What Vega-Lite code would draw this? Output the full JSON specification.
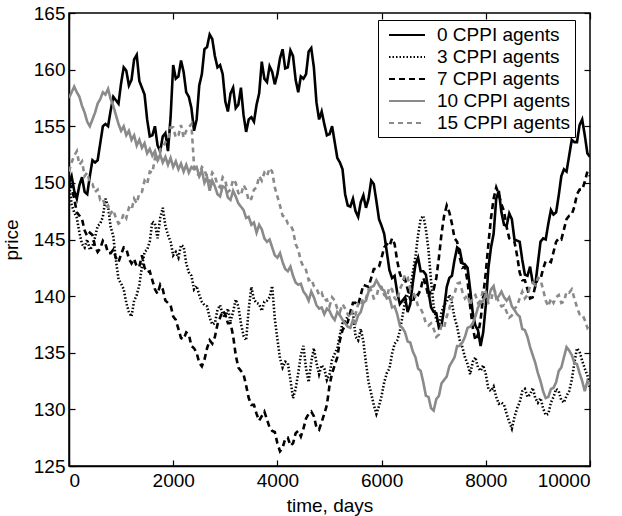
{
  "$schema": "https://vega.github.io/schema/vega-lite/v6.json",
  "autosize": {"type": "none"},
  "padding": {"left": 69, "top": 13, "right": 32, "bottom": 50},
  "width": 521,
  "height": 453,
  "background": "white",
  "config": {
    "view": {"stroke": "black", "strokeWidth": 1.5},
    "font": "Liberation Sans",
    "axis": {"labelFont": "Liberation Sans", "titleFont": "Liberation Sans", "labelFontSize": 19, "titleFontSize": 19, "titleFontWeight": "normal", "labelColor": "black", "titleColor": "black", "domainColor": "black", "tickColor": "black", "grid": false, "tickSize": -6, "domainWidth": 1.5, "tickWidth": 1.2, "format": "d"}
  },
  "datasets": {
    "d": [
{"s":"0","t":0,"p":150},{"s":"0","t":100,"p":149.3},{"s":"0","t":200,"p":149.8},{"s":"0","t":300,"p":149.2},{"s":"0","t":400,"p":150.6},{"s":"0","t":500,"p":151.8},{"s":"0","t":600,"p":153.5},{"s":"0","t":700,"p":155.2},{"s":"0","t":800,"p":156.4},{"s":"0","t":900,"p":157.3},{"s":"0","t":1000,"p":158.8},{"s":"0","t":1100,"p":159.9},{"s":"0","t":1200,"p":159.1},{"s":"0","t":1300,"p":161.3},{"s":"0","t":1400,"p":158.4},{"s":"0","t":1500,"p":155.6},{"s":"0","t":1600,"p":154.2},{"s":"0","t":1700,"p":153.3},{"s":"0","t":1800,"p":154.1},{"s":"0","t":1900,"p":152.8},{"s":"0","t":2000,"p":160.4},{"s":"0","t":2100,"p":159.4},{"s":"0","t":2200,"p":159.8},{"s":"0","t":2300,"p":157.6},{"s":"0","t":2400,"p":154.6},{"s":"0","t":2500,"p":158.6},{"s":"0","t":2600,"p":161.8},{"s":"0","t":2700,"p":163.1},{"s":"0","t":2800,"p":161.2},{"s":"0","t":2900,"p":160.4},{"s":"0","t":3000,"p":157.2},{"s":"0","t":3100,"p":157.9},{"s":"0","t":3200,"p":156.6},{"s":"0","t":3300,"p":158.4},{"s":"0","t":3400,"p":154.5},{"s":"0","t":3500,"p":155.8},{"s":"0","t":3600,"p":156.9},{"s":"0","t":3700,"p":160.7},{"s":"0","t":3800,"p":158.9},{"s":"0","t":3900,"p":159.8},{"s":"0","t":4000,"p":159.6},{"s":"0","t":4100,"p":161.8},{"s":"0","t":4200,"p":160.2},{"s":"0","t":4300,"p":161.2},{"s":"0","t":4400,"p":158.0},{"s":"0","t":4500,"p":159.2},{"s":"0","t":4600,"p":161.6},{"s":"0","t":4700,"p":160.2},{"s":"0","t":4800,"p":155.6},{"s":"0","t":4900,"p":155.2},{"s":"0","t":5000,"p":154.3},{"s":"0","t":5100,"p":153.6},{"s":"0","t":5200,"p":151.8},{"s":"0","t":5300,"p":149.0},{"s":"0","t":5400,"p":147.9},{"s":"0","t":5500,"p":147.5},{"s":"0","t":5600,"p":148.3},{"s":"0","t":5700,"p":147.8},{"s":"0","t":5800,"p":150.2},{"s":"0","t":5900,"p":148.4},{"s":"0","t":6000,"p":146.2},{"s":"0","t":6100,"p":143.9},{"s":"0","t":6200,"p":141.6},{"s":"0","t":6300,"p":140.3},{"s":"0","t":6400,"p":139.6},{"s":"0","t":6500,"p":138.6},{"s":"0","t":6600,"p":141.2},{"s":"0","t":6700,"p":143.4},{"s":"0","t":6800,"p":142.2},{"s":"0","t":6900,"p":140.4},{"s":"0","t":7000,"p":138.6},{"s":"0","t":7100,"p":137.2},{"s":"0","t":7200,"p":138.9},{"s":"0","t":7300,"p":141.6},{"s":"0","t":7400,"p":143.2},{"s":"0","t":7500,"p":144.1},{"s":"0","t":7600,"p":142.8},{"s":"0","t":7700,"p":140.6},{"s":"0","t":7800,"p":137.4},{"s":"0","t":7900,"p":135.6},{"s":"0","t":8000,"p":139.2},{"s":"0","t":8100,"p":144.3},{"s":"0","t":8200,"p":148.6},{"s":"0","t":8300,"p":147.4},{"s":"0","t":8400,"p":146.2},{"s":"0","t":8500,"p":146.8},{"s":"0","t":8600,"p":144.9},{"s":"0","t":8700,"p":143.2},{"s":"0","t":8800,"p":141.8},{"s":"0","t":8900,"p":141.2},{"s":"0","t":9000,"p":142.9},{"s":"0","t":9100,"p":145.1},{"s":"0","t":9200,"p":146.4},{"s":"0","t":9300,"p":147.2},{"s":"0","t":9400,"p":148.9},{"s":"0","t":9500,"p":151.2},{"s":"0","t":9600,"p":152.4},{"s":"0","t":9700,"p":153.6},{"s":"0","t":9800,"p":155.1},{"s":"0","t":9900,"p":154.2},{"s":"0","t":10000,"p":152.3},
{"s":"0","t":50,"p":150.6},{"s":"0","t":150,"p":148.6},{"s":"0","t":250,"p":150.5},{"s":"0","t":350,"p":149.0},{"s":"0","t":450,"p":152.0},{"s":"0","t":550,"p":152.0},{"s":"0","t":650,"p":155.0},{"s":"0","t":750,"p":155.0},{"s":"0","t":850,"p":157.6},{"s":"0","t":950,"p":157.0},{"s":"0","t":1050,"p":160.2},{"s":"0","t":1150,"p":158.6},{"s":"0","t":1250,"p":160.9},{"s":"0","t":1350,"p":159.0},{"s":"0","t":1450,"p":157.8},{"s":"0","t":1550,"p":154.1},{"s":"0","t":1650,"p":155.0},{"s":"0","t":1750,"p":152.8},{"s":"0","t":1850,"p":154.4},{"s":"0","t":1950,"p":155.8},{"s":"0","t":2050,"p":159.2},{"s":"0","t":2150,"p":160.8},{"s":"0","t":2250,"p":158.0},{"s":"0","t":2350,"p":156.6},{"s":"0","t":2450,"p":155.6},{"s":"0","t":2550,"p":159.6},{"s":"0","t":2650,"p":162.0},{"s":"0","t":2750,"p":162.7},{"s":"0","t":2850,"p":160.2},{"s":"0","t":2950,"p":159.6},{"s":"0","t":3050,"p":156.3},{"s":"0","t":3150,"p":158.4},{"s":"0","t":3250,"p":156.9},{"s":"0","t":3350,"p":156.0},{"s":"0","t":3450,"p":155.6},{"s":"0","t":3550,"p":155.4},{"s":"0","t":3650,"p":157.9},{"s":"0","t":3750,"p":159.2},{"s":"0","t":3850,"p":160.3},{"s":"0","t":3950,"p":158.7},{"s":"0","t":4050,"p":161.0},{"s":"0","t":4150,"p":160.1},{"s":"0","t":4250,"p":161.7},{"s":"0","t":4350,"p":159.1},{"s":"0","t":4450,"p":159.4},{"s":"0","t":4550,"p":159.6},{"s":"0","t":4650,"p":161.9},{"s":"0","t":4750,"p":157.1},{"s":"0","t":4850,"p":156.3},{"s":"0","t":4950,"p":154.2},{"s":"0","t":5050,"p":155.0},{"s":"0","t":5150,"p":152.2},{"s":"0","t":5250,"p":151.2},{"s":"0","t":5350,"p":148.0},{"s":"0","t":5450,"p":148.6},{"s":"0","t":5550,"p":147.0},{"s":"0","t":5650,"p":148.9},{"s":"0","t":5750,"p":148.6},{"s":"0","t":5850,"p":149.9},{"s":"0","t":5950,"p":146.8},{"s":"0","t":6050,"p":145.5},{"s":"0","t":6150,"p":142.3},{"s":"0","t":6250,"p":141.8},{"s":"0","t":6350,"p":139.3},{"s":"0","t":6450,"p":139.9},{"s":"0","t":6550,"p":139.3},{"s":"0","t":6650,"p":142.8},{"s":"0","t":6750,"p":142.2},{"s":"0","t":6850,"p":141.9},{"s":"0","t":6950,"p":139.0},{"s":"0","t":7050,"p":138.5},{"s":"0","t":7150,"p":137.4},{"s":"0","t":7250,"p":140.8},{"s":"0","t":7350,"p":141.8},{"s":"0","t":7450,"p":144.3},{"s":"0","t":7550,"p":142.9},{"s":"0","t":7650,"p":142.5},{"s":"0","t":7750,"p":138.5},{"s":"0","t":7850,"p":137.0},{"s":"0","t":7950,"p":136.8},{"s":"0","t":8050,"p":142.5},{"s":"0","t":8150,"p":145.5},{"s":"0","t":8250,"p":149.3},{"s":"0","t":8350,"p":146.3},{"s":"0","t":8450,"p":147.3},{"s":"0","t":8550,"p":145.0},{"s":"0","t":8650,"p":144.8},{"s":"0","t":8750,"p":141.9},{"s":"0","t":8850,"p":142.6},{"s":"0","t":8950,"p":141.0},{"s":"0","t":9050,"p":144.8},{"s":"0","t":9150,"p":145.0},{"s":"0","t":9250,"p":147.6},{"s":"0","t":9350,"p":147.4},{"s":"0","t":9450,"p":150.6},{"s":"0","t":9550,"p":151.0},{"s":"0","t":9650,"p":153.8},{"s":"0","t":9750,"p":153.6},{"s":"0","t":9850,"p":155.6},{"s":"0","t":9950,"p":152.6},
{"s":"3","t":0,"p":150},{"s":"3","t":100,"p":147.4},{"s":"3","t":200,"p":145.6},{"s":"3","t":300,"p":144.3},{"s":"3","t":400,"p":144.1},{"s":"3","t":500,"p":145.2},{"s":"3","t":600,"p":146.4},{"s":"3","t":700,"p":148.6},{"s":"3","t":800,"p":146.1},{"s":"3","t":900,"p":143.2},{"s":"3","t":1000,"p":141.1},{"s":"3","t":1100,"p":139.4},{"s":"3","t":1200,"p":138.2},{"s":"3","t":1300,"p":140.1},{"s":"3","t":1400,"p":142.6},{"s":"3","t":1500,"p":144.1},{"s":"3","t":1600,"p":146.6},{"s":"3","t":1700,"p":145.1},{"s":"3","t":1800,"p":147.8},{"s":"3","t":1900,"p":145.4},{"s":"3","t":2000,"p":143.6},{"s":"3","t":2100,"p":143.4},{"s":"3","t":2200,"p":144.4},{"s":"3","t":2300,"p":142.1},{"s":"3","t":2400,"p":140.6},{"s":"3","t":2500,"p":140.1},{"s":"3","t":2600,"p":139.2},{"s":"3","t":2700,"p":138.1},{"s":"3","t":2800,"p":137.6},{"s":"3","t":2900,"p":139.2},{"s":"3","t":3000,"p":138.1},{"s":"3","t":3100,"p":137.8},{"s":"3","t":3200,"p":139.7},{"s":"3","t":3300,"p":137.6},{"s":"3","t":3400,"p":136.1},{"s":"3","t":3500,"p":140.8},{"s":"3","t":3600,"p":139.4},{"s":"3","t":3700,"p":138.7},{"s":"3","t":3800,"p":139.6},{"s":"3","t":3900,"p":140.9},{"s":"3","t":4000,"p":136.2},{"s":"3","t":4100,"p":133.7},{"s":"3","t":4200,"p":134.1},{"s":"3","t":4300,"p":131.0},{"s":"3","t":4400,"p":133.2},{"s":"3","t":4500,"p":135.6},{"s":"3","t":4600,"p":132.4},{"s":"3","t":4700,"p":135.4},{"s":"3","t":4800,"p":133.1},{"s":"3","t":4900,"p":133.6},{"s":"3","t":5000,"p":133.1},{"s":"3","t":5100,"p":134.9},{"s":"3","t":5200,"p":136.6},{"s":"3","t":5300,"p":137.8},{"s":"3","t":5400,"p":138.5},{"s":"3","t":5500,"p":136.4},{"s":"3","t":5600,"p":137.1},{"s":"3","t":5700,"p":134.1},{"s":"3","t":5800,"p":131.4},{"s":"3","t":5900,"p":129.6},{"s":"3","t":6000,"p":131.2},{"s":"3","t":6100,"p":133.2},{"s":"3","t":6200,"p":134.9},{"s":"3","t":6300,"p":136.1},{"s":"3","t":6400,"p":138.2},{"s":"3","t":6500,"p":140.1},{"s":"3","t":6600,"p":142.1},{"s":"3","t":6700,"p":145.4},{"s":"3","t":6800,"p":147.1},{"s":"3","t":6900,"p":144.1},{"s":"3","t":7000,"p":139.1},{"s":"3","t":7100,"p":137.4},{"s":"3","t":7200,"p":139.2},{"s":"3","t":7300,"p":140.1},{"s":"3","t":7400,"p":138.1},{"s":"3","t":7500,"p":136.1},{"s":"3","t":7600,"p":134.6},{"s":"3","t":7700,"p":133.1},{"s":"3","t":7800,"p":134.6},{"s":"3","t":7900,"p":133.4},{"s":"3","t":8000,"p":133.1},{"s":"3","t":8100,"p":131.6},{"s":"3","t":8200,"p":131.1},{"s":"3","t":8300,"p":130.6},{"s":"3","t":8400,"p":129.6},{"s":"3","t":8500,"p":128.3},{"s":"3","t":8600,"p":130.1},{"s":"3","t":8700,"p":131.6},{"s":"3","t":8800,"p":131.1},{"s":"3","t":8900,"p":131.9},{"s":"3","t":9000,"p":130.6},{"s":"3","t":9100,"p":130.1},{"s":"3","t":9200,"p":129.6},{"s":"3","t":9300,"p":131.1},{"s":"3","t":9400,"p":131.6},{"s":"3","t":9500,"p":130.6},{"s":"3","t":9600,"p":131.6},{"s":"3","t":9700,"p":134.1},{"s":"3","t":9800,"p":135.1},{"s":"3","t":9900,"p":133.6},{"s":"3","t":10000,"p":131.8},
{"s":"3","t":50,"p":148.1},{"s":"3","t":150,"p":146.9},{"s":"3","t":250,"p":144.6},{"s":"3","t":350,"p":145.0},{"s":"3","t":450,"p":144.4},{"s":"3","t":550,"p":146.2},{"s":"3","t":650,"p":147.0},{"s":"3","t":750,"p":147.9},{"s":"3","t":850,"p":145.3},{"s":"3","t":950,"p":141.5},{"s":"3","t":1050,"p":140.6},{"s":"3","t":1150,"p":138.6},{"s":"3","t":1250,"p":139.6},{"s":"3","t":1350,"p":141.0},{"s":"3","t":1450,"p":143.9},{"s":"3","t":1550,"p":144.8},{"s":"3","t":1650,"p":146.4},{"s":"3","t":1750,"p":146.9},{"s":"3","t":1850,"p":146.2},{"s":"3","t":1950,"p":144.8},{"s":"3","t":2050,"p":143.9},{"s":"3","t":2150,"p":144.5},{"s":"3","t":2250,"p":142.9},{"s":"3","t":2350,"p":141.8},{"s":"3","t":2450,"p":140.9},{"s":"3","t":2550,"p":139.5},{"s":"3","t":2650,"p":139.1},{"s":"3","t":2750,"p":137.5},{"s":"3","t":2850,"p":138.8},{"s":"3","t":2950,"p":138.4},{"s":"3","t":3050,"p":138.9},{"s":"3","t":3150,"p":138.6},{"s":"3","t":3250,"p":139.1},{"s":"3","t":3350,"p":136.5},{"s":"3","t":3450,"p":138.9},{"s":"3","t":3550,"p":139.7},{"s":"3","t":3650,"p":139.3},{"s":"3","t":3750,"p":139.5},{"s":"3","t":3850,"p":139.9},{"s":"3","t":3950,"p":138.0},{"s":"3","t":4050,"p":134.5},{"s":"3","t":4150,"p":134.2},{"s":"3","t":4250,"p":132.6},{"s":"3","t":4350,"p":131.8},{"s":"3","t":4450,"p":134.8},{"s":"3","t":4550,"p":133.6},{"s":"3","t":4650,"p":134.2},{"s":"3","t":4750,"p":134.1},{"s":"3","t":4850,"p":133.9},{"s":"3","t":4950,"p":132.6},{"s":"3","t":5050,"p":134.4},{"s":"3","t":5150,"p":135.4},{"s":"3","t":5250,"p":137.6},{"s":"3","t":5350,"p":138.2},{"s":"3","t":5450,"p":138.6},{"s":"3","t":5550,"p":136.1},{"s":"3","t":5650,"p":136.0},{"s":"3","t":5750,"p":132.4},{"s":"3","t":5850,"p":130.4},{"s":"3","t":5950,"p":130.3},{"s":"3","t":6050,"p":132.4},{"s":"3","t":6150,"p":133.6},{"s":"3","t":6250,"p":135.8},{"s":"3","t":6350,"p":136.9},{"s":"3","t":6450,"p":139.5},{"s":"3","t":6550,"p":140.6},{"s":"3","t":6650,"p":143.5},{"s":"3","t":6750,"p":146.8},{"s":"3","t":6850,"p":145.9},{"s":"3","t":6950,"p":141.3},{"s":"3","t":7050,"p":137.9},{"s":"3","t":7150,"p":138.6},{"s":"3","t":7250,"p":139.5},{"s":"3","t":7350,"p":139.4},{"s":"3","t":7450,"p":137.3},{"s":"3","t":7550,"p":135.5},{"s":"3","t":7650,"p":134.0},{"s":"3","t":7750,"p":134.2},{"s":"3","t":7850,"p":133.7},{"s":"3","t":7950,"p":133.9},{"s":"3","t":8050,"p":131.8},{"s":"3","t":8150,"p":132.0},{"s":"3","t":8250,"p":130.5},{"s":"3","t":8350,"p":130.4},{"s":"3","t":8450,"p":128.9},{"s":"3","t":8550,"p":129.3},{"s":"3","t":8650,"p":130.6},{"s":"3","t":8750,"p":131.8},{"s":"3","t":8850,"p":131.3},{"s":"3","t":8950,"p":131.0},{"s":"3","t":9050,"p":131.0},{"s":"3","t":9150,"p":129.5},{"s":"3","t":9250,"p":130.6},{"s":"3","t":9350,"p":131.8},{"s":"3","t":9450,"p":130.8},{"s":"3","t":9550,"p":131.2},{"s":"3","t":9650,"p":132.6},{"s":"3","t":9750,"p":135.4},{"s":"3","t":9850,"p":134.3},{"s":"3","t":9950,"p":133.0},
{"s":"7","t":0,"p":150},{"s":"7","t":100,"p":148.6},{"s":"7","t":200,"p":147.1},{"s":"7","t":300,"p":145.8},{"s":"7","t":400,"p":145.6},{"s":"7","t":500,"p":144.4},{"s":"7","t":600,"p":144.2},{"s":"7","t":700,"p":144.6},{"s":"7","t":800,"p":143.8},{"s":"7","t":900,"p":143.4},{"s":"7","t":1000,"p":143.7},{"s":"7","t":1100,"p":144.2},{"s":"7","t":1200,"p":142.9},{"s":"7","t":1300,"p":142.6},{"s":"7","t":1400,"p":143.6},{"s":"7","t":1500,"p":142.1},{"s":"7","t":1600,"p":141.4},{"s":"7","t":1700,"p":140.2},{"s":"7","t":1800,"p":140.6},{"s":"7","t":1900,"p":139.4},{"s":"7","t":2000,"p":138.2},{"s":"7","t":2100,"p":137.1},{"s":"7","t":2200,"p":136.2},{"s":"7","t":2300,"p":136.6},{"s":"7","t":2400,"p":135.4},{"s":"7","t":2500,"p":134.1},{"s":"7","t":2600,"p":134.4},{"s":"7","t":2700,"p":136.1},{"s":"7","t":2800,"p":136.4},{"s":"7","t":2900,"p":138.1},{"s":"7","t":3000,"p":138.4},{"s":"7","t":3100,"p":137.6},{"s":"7","t":3200,"p":134.8},{"s":"7","t":3300,"p":133.4},{"s":"7","t":3400,"p":132.1},{"s":"7","t":3500,"p":130.4},{"s":"7","t":3600,"p":129.6},{"s":"7","t":3700,"p":129.4},{"s":"7","t":3800,"p":129.1},{"s":"7","t":3900,"p":128.1},{"s":"7","t":4000,"p":127.0},{"s":"7","t":4100,"p":126.6},{"s":"7","t":4200,"p":127.5},{"s":"7","t":4300,"p":127.0},{"s":"7","t":4400,"p":128.1},{"s":"7","t":4500,"p":128.3},{"s":"7","t":4600,"p":129.6},{"s":"7","t":4700,"p":129.4},{"s":"7","t":4800,"p":128.2},{"s":"7","t":4900,"p":129.6},{"s":"7","t":5000,"p":132.1},{"s":"7","t":5100,"p":133.9},{"s":"7","t":5200,"p":136.1},{"s":"7","t":5300,"p":137.4},{"s":"7","t":5400,"p":138.6},{"s":"7","t":5500,"p":139.4},{"s":"7","t":5600,"p":140.1},{"s":"7","t":5700,"p":140.9},{"s":"7","t":5800,"p":141.6},{"s":"7","t":5900,"p":142.4},{"s":"7","t":6000,"p":143.4},{"s":"7","t":6100,"p":144.6},{"s":"7","t":6200,"p":145.1},{"s":"7","t":6300,"p":143.1},{"s":"7","t":6400,"p":141.4},{"s":"7","t":6500,"p":140.6},{"s":"7","t":6600,"p":139.4},{"s":"7","t":6700,"p":140.1},{"s":"7","t":6800,"p":141.6},{"s":"7","t":6900,"p":139.9},{"s":"7","t":7000,"p":140.6},{"s":"7","t":7100,"p":143.4},{"s":"7","t":7200,"p":147.1},{"s":"7","t":7300,"p":147.4},{"s":"7","t":7400,"p":145.1},{"s":"7","t":7500,"p":143.4},{"s":"7","t":7600,"p":142.6},{"s":"7","t":7700,"p":139.1},{"s":"7","t":7800,"p":136.1},{"s":"7","t":7900,"p":137.9},{"s":"7","t":8000,"p":142.1},{"s":"7","t":8100,"p":146.9},{"s":"7","t":8200,"p":149.6},{"s":"7","t":8300,"p":148.1},{"s":"7","t":8400,"p":146.1},{"s":"7","t":8500,"p":144.9},{"s":"7","t":8600,"p":143.6},{"s":"7","t":8700,"p":141.4},{"s":"7","t":8800,"p":140.6},{"s":"7","t":8900,"p":139.9},{"s":"7","t":9000,"p":141.6},{"s":"7","t":9100,"p":142.4},{"s":"7","t":9200,"p":143.1},{"s":"7","t":9300,"p":143.9},{"s":"7","t":9400,"p":145.1},{"s":"7","t":9500,"p":145.9},{"s":"7","t":9600,"p":147.1},{"s":"7","t":9700,"p":147.9},{"s":"7","t":9800,"p":149.4},{"s":"7","t":9900,"p":150.1},{"s":"7","t":10000,"p":150.6},
{"s":"7","t":50,"p":149.6},{"s":"7","t":150,"p":147.4},{"s":"7","t":250,"p":146.8},{"s":"7","t":350,"p":145.3},{"s":"7","t":450,"p":145.4},{"s":"7","t":550,"p":143.9},{"s":"7","t":650,"p":144.9},{"s":"7","t":750,"p":143.8},{"s":"7","t":850,"p":144.1},{"s":"7","t":950,"p":143.0},{"s":"7","t":1050,"p":144.3},{"s":"7","t":1150,"p":143.3},{"s":"7","t":1250,"p":143.3},{"s":"7","t":1350,"p":142.6},{"s":"7","t":1450,"p":142.5},{"s":"7","t":1550,"p":142.2},{"s":"7","t":1650,"p":140.6},{"s":"7","t":1750,"p":141.0},{"s":"7","t":1850,"p":139.6},{"s":"7","t":1950,"p":139.2},{"s":"7","t":2050,"p":137.9},{"s":"7","t":2150,"p":136.3},{"s":"7","t":2250,"p":136.8},{"s":"7","t":2350,"p":135.6},{"s":"7","t":2450,"p":135.0},{"s":"7","t":2550,"p":133.8},{"s":"7","t":2650,"p":135.4},{"s":"7","t":2750,"p":135.8},{"s":"7","t":2850,"p":137.5},{"s":"7","t":2950,"p":138.7},{"s":"7","t":3050,"p":137.6},{"s":"7","t":3150,"p":136.5},{"s":"7","t":3250,"p":133.7},{"s":"7","t":3350,"p":133.1},{"s":"7","t":3450,"p":131.0},{"s":"7","t":3550,"p":130.4},{"s":"7","t":3650,"p":129.0},{"s":"7","t":3750,"p":129.8},{"s":"7","t":3850,"p":128.4},{"s":"7","t":3950,"p":128.0},{"s":"7","t":4050,"p":126.3},{"s":"7","t":4150,"p":127.4},{"s":"7","t":4250,"p":126.8},{"s":"7","t":4350,"p":127.9},{"s":"7","t":4450,"p":127.6},{"s":"7","t":4550,"p":129.2},{"s":"7","t":4650,"p":129.8},{"s":"7","t":4750,"p":128.4},{"s":"7","t":4850,"p":128.9},{"s":"7","t":4950,"p":130.4},{"s":"7","t":5050,"p":133.2},{"s":"7","t":5150,"p":134.6},{"s":"7","t":5250,"p":137.0},{"s":"7","t":5350,"p":137.7},{"s":"7","t":5450,"p":139.4},{"s":"7","t":5550,"p":139.2},{"s":"7","t":5650,"p":141.0},{"s":"7","t":5750,"p":140.8},{"s":"7","t":5850,"p":142.4},{"s":"7","t":5950,"p":142.6},{"s":"7","t":6050,"p":144.3},{"s":"7","t":6150,"p":144.4},{"s":"7","t":6250,"p":144.6},{"s":"7","t":6350,"p":142.0},{"s":"7","t":6450,"p":141.5},{"s":"7","t":6550,"p":139.7},{"s":"7","t":6650,"p":140.3},{"s":"7","t":6750,"p":140.6},{"s":"7","t":6850,"p":141.0},{"s":"7","t":6950,"p":140.6},{"s":"7","t":7050,"p":141.6},{"s":"7","t":7150,"p":145.5},{"s":"7","t":7250,"p":148.0},{"s":"7","t":7350,"p":146.4},{"s":"7","t":7450,"p":144.8},{"s":"7","t":7550,"p":142.5},{"s":"7","t":7650,"p":141.3},{"s":"7","t":7750,"p":137.2},{"s":"7","t":7850,"p":136.6},{"s":"7","t":7950,"p":140.0},{"s":"7","t":8050,"p":144.6},{"s":"7","t":8150,"p":148.6},{"s":"7","t":8250,"p":149.0},{"s":"7","t":8350,"p":147.5},{"s":"7","t":8450,"p":145.1},{"s":"7","t":8550,"p":144.8},{"s":"7","t":8650,"p":142.1},{"s":"7","t":8750,"p":141.4},{"s":"7","t":8850,"p":139.8},{"s":"7","t":8950,"p":140.9},{"s":"7","t":9050,"p":141.5},{"s":"7","t":9150,"p":143.1},{"s":"7","t":9250,"p":143.0},{"s":"7","t":9350,"p":144.8},{"s":"7","t":9450,"p":145.0},{"s":"7","t":9550,"p":146.8},{"s":"7","t":9650,"p":147.2},{"s":"7","t":9750,"p":149.0},{"s":"7","t":9850,"p":149.4},{"s":"7","t":9950,"p":151.0},
{"s":"10","t":0,"p":157.5},{"s":"10","t":50,"p":158.0},{"s":"10","t":100,"p":158.5},{"s":"10","t":150,"p":158.0},{"s":"10","t":200,"p":157.6},{"s":"10","t":250,"p":156.8},{"s":"10","t":300,"p":156.2},{"s":"10","t":350,"p":155.4},{"s":"10","t":400,"p":155.0},{"s":"10","t":450,"p":155.6},{"s":"10","t":500,"p":156.2},{"s":"10","t":550,"p":157.0},{"s":"10","t":600,"p":157.4},{"s":"10","t":650,"p":158.0},{"s":"10","t":700,"p":157.8},{"s":"10","t":750,"p":158.3},{"s":"10","t":800,"p":157.4},{"s":"10","t":850,"p":156.8},{"s":"10","t":900,"p":156.0},{"s":"10","t":950,"p":155.2},{"s":"10","t":1000,"p":154.6},{"s":"10","t":1050,"p":155.0},{"s":"10","t":1100,"p":154.2},{"s":"10","t":1150,"p":154.6},{"s":"10","t":1200,"p":153.8},{"s":"10","t":1250,"p":154.2},{"s":"10","t":1300,"p":153.3},{"s":"10","t":1350,"p":153.8},{"s":"10","t":1400,"p":153.1},{"s":"10","t":1450,"p":153.5},{"s":"10","t":1500,"p":152.6},{"s":"10","t":1550,"p":153.0},{"s":"10","t":1600,"p":152.4},{"s":"10","t":1650,"p":152.8},{"s":"10","t":1700,"p":152.0},{"s":"10","t":1750,"p":152.5},{"s":"10","t":1800,"p":151.8},{"s":"10","t":1850,"p":152.3},{"s":"10","t":1900,"p":151.6},{"s":"10","t":1950,"p":152.2},{"s":"10","t":2000,"p":151.4},{"s":"10","t":2050,"p":151.9},{"s":"10","t":2100,"p":151.2},{"s":"10","t":2150,"p":151.7},{"s":"10","t":2200,"p":151.0},{"s":"10","t":2250,"p":151.6},{"s":"10","t":2300,"p":150.9},{"s":"10","t":2350,"p":151.4},
{"s":"10","t":2400,"p":151.2},{"s":"10","t":2450,"p":151.4},{"s":"10","t":2500,"p":150.6},{"s":"10","t":2550,"p":151.1},{"s":"10","t":2600,"p":150.0},{"s":"10","t":2650,"p":150.5},{"s":"10","t":2700,"p":149.3},{"s":"10","t":2750,"p":150.2},{"s":"10","t":2800,"p":149.7},{"s":"10","t":2850,"p":149.0},{"s":"10","t":2900,"p":148.8},{"s":"10","t":2950,"p":149.7},{"s":"10","t":3000,"p":149.6},{"s":"10","t":3050,"p":148.7},{"s":"10","t":3100,"p":148.5},{"s":"10","t":3150,"p":149.3},{"s":"10","t":3200,"p":148.8},{"s":"10","t":3250,"p":148.2},{"s":"10","t":3300,"p":147.9},{"s":"10","t":3350,"p":147.6},{"s":"10","t":3400,"p":146.9},{"s":"10","t":3450,"p":147.0},{"s":"10","t":3500,"p":146.3},{"s":"10","t":3550,"p":146.5},{"s":"10","t":3600,"p":145.6},{"s":"10","t":3650,"p":146.3},{"s":"10","t":3700,"p":145.9},{"s":"10","t":3750,"p":145.1},{"s":"10","t":3800,"p":144.8},{"s":"10","t":3850,"p":145.0},{"s":"10","t":3900,"p":144.3},{"s":"10","t":3950,"p":143.6},{"s":"10","t":4000,"p":143.4},{"s":"10","t":4050,"p":143.8},{"s":"10","t":4100,"p":143.0},{"s":"10","t":4150,"p":142.4},{"s":"10","t":4200,"p":142.2},{"s":"10","t":4250,"p":142.6},{"s":"10","t":4300,"p":141.8},{"s":"10","t":4350,"p":141.2},{"s":"10","t":4400,"p":141.0},{"s":"10","t":4450,"p":141.1},{"s":"10","t":4500,"p":140.4},{"s":"10","t":4550,"p":140.1},{"s":"10","t":4600,"p":139.6},{"s":"10","t":4650,"p":140.4},{"s":"10","t":4700,"p":139.9},{"s":"10","t":4750,"p":139.2},{"s":"10","t":4800,"p":138.9},{"s":"10","t":4850,"p":139.0},{"s":"10","t":4900,"p":138.4},{"s":"10","t":4950,"p":138.9},{"s":"10","t":5000,"p":138.7},{"s":"10","t":5050,"p":138.2},{"s":"10","t":5100,"p":137.9},{"s":"10","t":5150,"p":138.6},{"s":"10","t":5200,"p":138.3},{"s":"10","t":5250,"p":137.9},{"s":"10","t":5300,"p":137.6},{"s":"10","t":5350,"p":137.3},{"s":"10","t":5400,"p":137.2},{"s":"10","t":5450,"p":137.9},{"s":"10","t":5500,"p":137.6},{"s":"10","t":5550,"p":138.3},{"s":"10","t":5600,"p":138.6},{"s":"10","t":5650,"p":139.4},{"s":"10","t":5700,"p":139.6},{"s":"10","t":5750,"p":140.4},{"s":"10","t":5800,"p":140.8},{"s":"10","t":5850,"p":140.9},{"s":"10","t":5900,"p":141.4},{"s":"10","t":5950,"p":141.0},{"s":"10","t":6000,"p":140.6},{"s":"10","t":6050,"p":140.5},{"s":"10","t":6100,"p":139.8},{"s":"10","t":6150,"p":139.9},{"s":"10","t":6200,"p":139.0},{"s":"10","t":6250,"p":139.1},{"s":"10","t":6300,"p":138.4},{"s":"10","t":6350,"p":137.4},{"s":"10","t":6400,"p":137.2},{"s":"10","t":6450,"p":136.8},{"s":"10","t":6500,"p":136.0},{"s":"10","t":6550,"p":135.9},{"s":"10","t":6600,"p":135.1},{"s":"10","t":6650,"p":134.6},{"s":"10","t":6700,"p":133.6},{"s":"10","t":6750,"p":133.4},{"s":"10","t":6800,"p":132.4},{"s":"10","t":6850,"p":131.2},{"s":"10","t":6900,"p":131.1},{"s":"10","t":6950,"p":130.1},{"s":"10","t":7000,"p":129.9},{"s":"10","t":7050,"p":130.9},{"s":"10","t":7100,"p":131.2},{"s":"10","t":7150,"p":132.3},{"s":"10","t":7200,"p":132.6},{"s":"10","t":7250,"p":132.9},{"s":"10","t":7300,"p":133.8},{"s":"10","t":7350,"p":134.2},{"s":"10","t":7400,"p":134.6},{"s":"10","t":7450,"p":135.6},{"s":"10","t":7500,"p":135.6},{"s":"10","t":7550,"p":135.9},{"s":"10","t":7600,"p":136.4},{"s":"10","t":7650,"p":137.2},{"s":"10","t":7700,"p":137.3},{"s":"10","t":7750,"p":137.6},{"s":"10","t":7800,"p":138.2},{"s":"10","t":7850,"p":139.0},{"s":"10","t":7900,"p":139.4},{"s":"10","t":7950,"p":139.6},{"s":"10","t":8000,"p":140.1},{"s":"10","t":8050,"p":139.8},{"s":"10","t":8100,"p":140.6},{"s":"10","t":8150,"p":140.9},{"s":"10","t":8200,"p":139.8},{"s":"10","t":8250,"p":140.0},{"s":"10","t":8300,"p":140.4},{"s":"10","t":8350,"p":139.9},{"s":"10","t":8400,"p":139.6},{"s":"10","t":8450,"p":139.9},{"s":"10","t":8500,"p":139.1},{"s":"10","t":8550,"p":138.8},{"s":"10","t":8600,"p":138.4},{"s":"10","t":8650,"p":138.2},{"s":"10","t":8700,"p":137.1},{"s":"10","t":8750,"p":137.0},{"s":"10","t":8800,"p":136.4},{"s":"10","t":8850,"p":135.5},{"s":"10","t":8900,"p":134.8},{"s":"10","t":8950,"p":134.1},{"s":"10","t":9000,"p":133.2},{"s":"10","t":9050,"p":132.5},{"s":"10","t":9100,"p":131.6},{"s":"10","t":9150,"p":131.0},{"s":"10","t":9200,"p":131.1},{"s":"10","t":9250,"p":131.8},{"s":"10","t":9300,"p":131.9},{"s":"10","t":9350,"p":132.4},{"s":"10","t":9400,"p":133.4},{"s":"10","t":9450,"p":133.7},{"s":"10","t":9500,"p":134.6},{"s":"10","t":9550,"p":135.5},{"s":"10","t":9600,"p":135.2},{"s":"10","t":9650,"p":134.8},{"s":"10","t":9700,"p":134.1},{"s":"10","t":9750,"p":134.0},{"s":"10","t":9800,"p":133.2},{"s":"10","t":9850,"p":132.5},{"s":"10","t":9900,"p":131.6},{"s":"10","t":9950,"p":132.5},{"s":"10","t":10000,"p":132.2},
{"s":"15","t":0,"p":151.0},{"s":"15","t":50,"p":151.8},{"s":"15","t":100,"p":152.4},{"s":"15","t":150,"p":152.8},{"s":"15","t":200,"p":151.6},{"s":"15","t":250,"p":151.9},{"s":"15","t":300,"p":150.6},{"s":"15","t":350,"p":150.9},{"s":"15","t":400,"p":150.0},{"s":"15","t":450,"p":149.9},{"s":"15","t":500,"p":149.2},{"s":"15","t":550,"p":149.4},{"s":"15","t":600,"p":148.5},{"s":"15","t":650,"p":148.6},{"s":"15","t":700,"p":147.8},{"s":"15","t":750,"p":148.0},{"s":"15","t":800,"p":147.3},{"s":"15","t":850,"p":147.6},{"s":"15","t":900,"p":146.9},{"s":"15","t":950,"p":146.4},{"s":"15","t":1000,"p":146.6},{"s":"15","t":1050,"p":147.3},{"s":"15","t":1100,"p":146.9},{"s":"15","t":1150,"p":147.8},{"s":"15","t":1200,"p":147.6},{"s":"15","t":1250,"p":148.6},{"s":"15","t":1300,"p":148.2},{"s":"15","t":1350,"p":149.1},{"s":"15","t":1400,"p":149.2},{"s":"15","t":1450,"p":150.2},{"s":"15","t":1500,"p":149.9},{"s":"15","t":1550,"p":151.0},{"s":"15","t":1600,"p":150.9},{"s":"15","t":1650,"p":152.2},{"s":"15","t":1700,"p":151.8},{"s":"15","t":1750,"p":153.0},{"s":"15","t":1800,"p":153.1},{"s":"15","t":1850,"p":153.6},{"s":"15","t":1900,"p":153.8},{"s":"15","t":1950,"p":154.9},{"s":"15","t":2000,"p":154.9},{"s":"15","t":2050,"p":154.0},{"s":"15","t":2100,"p":154.2},{"s":"15","t":2150,"p":155.1},{"s":"15","t":2200,"p":154.0},{"s":"15","t":2250,"p":154.6},{"s":"15","t":2300,"p":154.9},{"s":"15","t":2350,"p":155.2},
{"s":"15","t":2400,"p":151.5},{"s":"15","t":2450,"p":150.9},{"s":"15","t":2500,"p":150.6},{"s":"15","t":2550,"p":151.4},{"s":"15","t":2600,"p":151.2},{"s":"15","t":2650,"p":150.4},{"s":"15","t":2700,"p":150.1},{"s":"15","t":2750,"p":150.9},{"s":"15","t":2800,"p":150.6},{"s":"15","t":2850,"p":149.8},{"s":"15","t":2900,"p":149.6},{"s":"15","t":2950,"p":150.5},{"s":"15","t":3000,"p":150.2},{"s":"15","t":3050,"p":149.2},{"s":"15","t":3100,"p":149.4},{"s":"15","t":3150,"p":150.3},{"s":"15","t":3200,"p":150.0},{"s":"15","t":3250,"p":149.1},{"s":"15","t":3300,"p":148.9},{"s":"15","t":3350,"p":149.8},{"s":"15","t":3400,"p":149.4},{"s":"15","t":3450,"p":148.4},{"s":"15","t":3500,"p":148.6},{"s":"15","t":3550,"p":149.4},{"s":"15","t":3600,"p":149.6},{"s":"15","t":3650,"p":150.6},{"s":"15","t":3700,"p":150.2},{"s":"15","t":3750,"p":150.9},{"s":"15","t":3800,"p":150.6},{"s":"15","t":3850,"p":151.3},{"s":"15","t":3900,"p":151.0},{"s":"15","t":3950,"p":149.6},{"s":"15","t":4000,"p":148.8},{"s":"15","t":4050,"p":148.0},{"s":"15","t":4100,"p":147.1},{"s":"15","t":4150,"p":147.0},{"s":"15","t":4200,"p":146.4},{"s":"15","t":4250,"p":146.3},{"s":"15","t":4300,"p":145.8},{"s":"15","t":4350,"p":144.6},{"s":"15","t":4400,"p":144.1},{"s":"15","t":4450,"p":143.1},{"s":"15","t":4500,"p":142.6},{"s":"15","t":4550,"p":142.3},{"s":"15","t":4600,"p":141.4},{"s":"15","t":4650,"p":141.5},{"s":"15","t":4700,"p":140.9},{"s":"15","t":4750,"p":140.7},{"s":"15","t":4800,"p":140.1},{"s":"15","t":4850,"p":140.3},{"s":"15","t":4900,"p":139.6},{"s":"15","t":4950,"p":139.7},{"s":"15","t":5000,"p":139.1},{"s":"15","t":5050,"p":139.9},{"s":"15","t":5100,"p":139.6},{"s":"15","t":5150,"p":138.9},{"s":"15","t":5200,"p":138.6},{"s":"15","t":5250,"p":139.3},{"s":"15","t":5300,"p":138.9},{"s":"15","t":5350,"p":138.4},{"s":"15","t":5400,"p":138.1},{"s":"15","t":5450,"p":138.8},{"s":"15","t":5500,"p":138.4},{"s":"15","t":5550,"p":139.3},{"s":"15","t":5600,"p":139.1},{"s":"15","t":5650,"p":139.9},{"s":"15","t":5700,"p":139.8},{"s":"15","t":5750,"p":140.6},{"s":"15","t":5800,"p":140.5},{"s":"15","t":5850,"p":139.8},{"s":"15","t":5900,"p":139.9},{"s":"15","t":5950,"p":140.9},{"s":"15","t":6000,"p":140.8},{"s":"15","t":6050,"p":140.1},{"s":"15","t":6100,"p":139.9},{"s":"15","t":6150,"p":140.8},{"s":"15","t":6200,"p":140.6},{"s":"15","t":6250,"p":139.8},{"s":"15","t":6300,"p":139.6},{"s":"15","t":6350,"p":140.6},{"s":"15","t":6400,"p":141.1},{"s":"15","t":6450,"p":141.9},{"s":"15","t":6500,"p":141.7},{"s":"15","t":6550,"p":140.6},{"s":"15","t":6600,"p":140.4},{"s":"15","t":6650,"p":139.9},{"s":"15","t":6700,"p":139.1},{"s":"15","t":6750,"p":138.9},{"s":"15","t":6800,"p":138.4},{"s":"15","t":6850,"p":137.6},{"s":"15","t":6900,"p":137.4},{"s":"15","t":6950,"p":137.6},{"s":"15","t":7000,"p":137.1},{"s":"15","t":7050,"p":136.4},{"s":"15","t":7100,"p":136.6},{"s":"15","t":7150,"p":137.4},{"s":"15","t":7200,"p":137.2},{"s":"15","t":7250,"p":138.2},{"s":"15","t":7300,"p":138.9},{"s":"15","t":7350,"p":139.8},{"s":"15","t":7400,"p":140.2},{"s":"15","t":7450,"p":141.1},{"s":"15","t":7500,"p":141.2},{"s":"15","t":7550,"p":140.4},{"s":"15","t":7600,"p":139.8},{"s":"15","t":7650,"p":140.1},{"s":"15","t":7700,"p":139.2},{"s":"15","t":7750,"p":139.9},{"s":"15","t":7800,"p":140.1},{"s":"15","t":7850,"p":139.4},{"s":"15","t":7900,"p":139.6},{"s":"15","t":7950,"p":140.6},{"s":"15","t":8000,"p":140.4},{"s":"15","t":8050,"p":139.4},{"s":"15","t":8100,"p":139.6},{"s":"15","t":8150,"p":140.6},{"s":"15","t":8200,"p":140.2},{"s":"15","t":8250,"p":139.4},{"s":"15","t":8300,"p":139.1},{"s":"15","t":8350,"p":139.2},{"s":"15","t":8400,"p":138.6},{"s":"15","t":8450,"p":138.1},{"s":"15","t":8500,"p":138.3},{"s":"15","t":8550,"p":138.9},{"s":"15","t":8600,"p":139.1},{"s":"15","t":8650,"p":139.8},{"s":"15","t":8700,"p":140.4},{"s":"15","t":8750,"p":139.8},{"s":"15","t":8800,"p":140.1},{"s":"15","t":8850,"p":140.9},{"s":"15","t":8900,"p":141.2},{"s":"15","t":8950,"p":141.0},{"s":"15","t":9000,"p":141.6},{"s":"15","t":9050,"p":141.4},{"s":"15","t":9100,"p":140.6},{"s":"15","t":9150,"p":139.6},{"s":"15","t":9200,"p":139.1},{"s":"15","t":9250,"p":139.8},{"s":"15","t":9300,"p":139.4},{"s":"15","t":9350,"p":139.9},{"s":"15","t":9400,"p":140.1},{"s":"15","t":9450,"p":139.4},{"s":"15","t":9500,"p":139.5},{"s":"15","t":9550,"p":140.4},{"s":"15","t":9600,"p":140.3},{"s":"15","t":9650,"p":140.6},{"s":"15","t":9700,"p":139.8},{"s":"15","t":9750,"p":139.0},{"s":"15","t":9800,"p":138.4},{"s":"15","t":9850,"p":138.4},{"s":"15","t":9900,"p":137.9},{"s":"15","t":9950,"p":137.2},{"s":"15","t":10000,"p":137.5}
    ]
  },
  "data": {"name": "d"},
  "layer": [
    {
      "mark": {"type": "line", "strokeWidth": 2.6, "clip": true},
      "encoding": {
        "x": {"field": "t", "type": "quantitative", "scale": {"domain": [0, 10000], "nice": false}, "axis": {"values": [0, 2000, 4000, 6000, 8000, 10000], "title": "time, days", "labelPadding": 11, "titlePadding": 6}},
        "y": {"field": "p", "type": "quantitative", "scale": {"domain": [125, 165], "nice": false, "zero": false}, "axis": {"values": [125, 130, 135, 140, 145, 150, 155, 160, 165], "title": "price", "labelPadding": 10, "titlePadding": 12}},
        "color": {"field": "s", "type": "nominal", "scale": {"domain": ["0", "3", "7", "10", "15"], "range": ["#000000", "#000000", "#000000", "#8a8a8a", "#8a8a8a"]}, "legend": {"title": null, "orient": "none", "legendX": 309, "legendY": 7, "labelExpr": "datum.label + ' CPPI agents\u00a0\u00a0\u00a0\u00a0\u00a0'", "labelFontSize": 19, "labelFont": "Liberation Sans", "labelColor": "black", "symbolType": "M-1.8,0H1.8", "symbolSize": 400, "symbolStrokeWidth": 1.8, "symbolFillColor": "transparent", "symbolOffset": 14, "labelOffset": 19, "rowPadding": 1, "padding": 4, "strokeColor": "black", "fillColor": "white", "cornerRadius": 0}},
        "strokeDash": {"field": "s", "type": "nominal", "scale": {"domain": ["0", "3", "7", "10", "15"], "range": [[1, 0], [1.5, 2], [6, 4], [1, 0], [5, 4]]}, "legend": {"title": null}},
        "order": {"field": "t", "type": "quantitative"}
      }
    },
    {
      "mark": {"type": "point", "opacity": 0},
      "encoding": {
        "x": {"field": "t", "type": "quantitative", "axis": {"orient": "top", "values": [0, 2000, 4000, 6000, 8000, 10000], "labels": false, "title": null, "domain": false}},
        "y": {"field": "p", "type": "quantitative", "axis": {"orient": "right", "values": [125, 130, 135, 140, 145, 150, 155, 160, 165], "labels": false, "title": null, "domain": false}}
      }
    }
  ],
  "resolve": {"axis": {"x": "independent", "y": "independent"}}
}
